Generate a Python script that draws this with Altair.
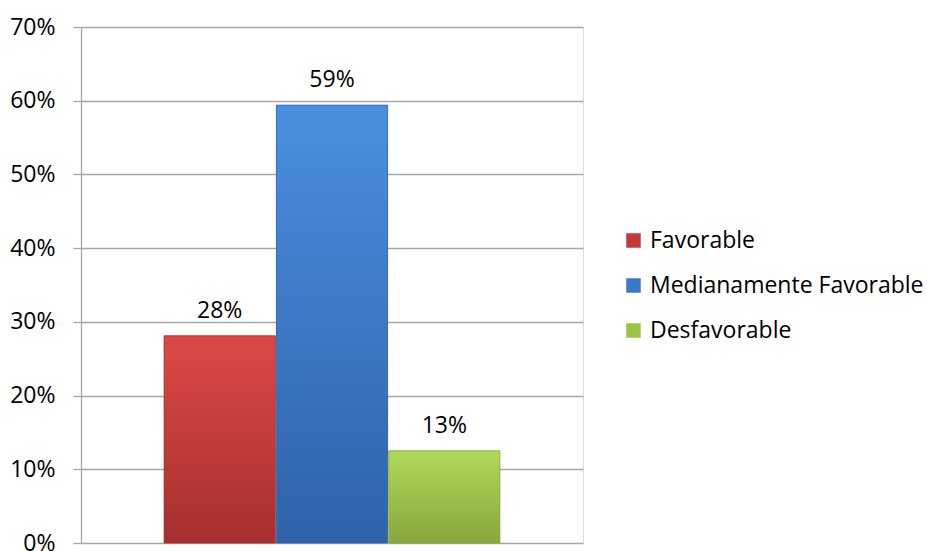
import altair as alt
import pandas as pd

categories = ["Favorable", "Medianamente Favorable", "Desfavorable"]
values = [0.281, 0.594, 0.125]
labels = ["28%", "59%", "13%"]
flat_colors = ["#c0393b", "#3d78c8", "#9bc346"]
grad_top = ["#dc4946", "#4a8fe0", "#b0d95a"]
grad_bot = ["#a52f2f", "#2f62a8", "#87a83c"]

df = pd.DataFrame({"cat": categories, "val": values, "label": labels})

FONT = "Open Sans"

x = alt.X("cat:N", sort=categories,
          scale=alt.Scale(paddingInner=0.01, paddingOuter=0.74),
          axis=None)
y = alt.Y("val:Q",
          scale=alt.Scale(domain=[0, 0.7]),
          axis=alt.Axis(format=".0%", values=[0, 0.1, 0.2, 0.3, 0.4, 0.5, 0.6, 0.7],
                        title=None, grid=True, gridColor="#a6a6a6", gridWidth=1.3,
                        domainColor="#a6a6a6", domainWidth=1.3,
                        tickColor="#a6a6a6", tickSize=8, tickWidth=1.3,
                        labelFont=FONT, labelFontSize=23, labelColor="#000000",
                        labelPadding=18))

base = alt.Chart(df).mark_bar().encode(
    x=x, y=y,
    color=alt.Color("cat:N", sort=categories,
                    scale=alt.Scale(domain=categories, range=flat_colors),
                    legend=alt.Legend(title=None, orient="none", legendX=541, legendY=202,
                                      symbolType="square", symbolSize=210,
                                      symbolStrokeWidth=0,
                                      labelFont=FONT, labelFontSize=23, labelColor="#000000",
                                      rowPadding=21, labelOffset=5, labelLimit=400)),
)

layers = [base]
for c, t, b in zip(categories, grad_top, grad_bot):
    g = alt.Gradient(gradient="linear", x1=0, y1=0, x2=0, y2=1,
                     stops=[alt.GradientStop(color=t, offset=0),
                            alt.GradientStop(color=b, offset=1)])
    layers.append(
        alt.Chart(df).transform_filter(alt.datum.cat == c)
        .mark_bar(fill=g, stroke=b, strokeWidth=0.8).encode(x=x, y=y)
    )

text = alt.Chart(df).mark_text(dy=-25, font=FONT, fontSize=23, color="#000000").encode(
    x=x, y=y, text="label:N")
layers.append(text)

chart = alt.layer(*layers).properties(
    width=502, height=516,
    autosize=alt.AutoSizeParams(type="none"),
    padding={"left": 81, "top": 27, "right": 344, "bottom": 8},
).configure_view(stroke=None).configure(background="#ffffff")

chart.save("out.html", embed_options={"renderer": "svg", "actions": False})
